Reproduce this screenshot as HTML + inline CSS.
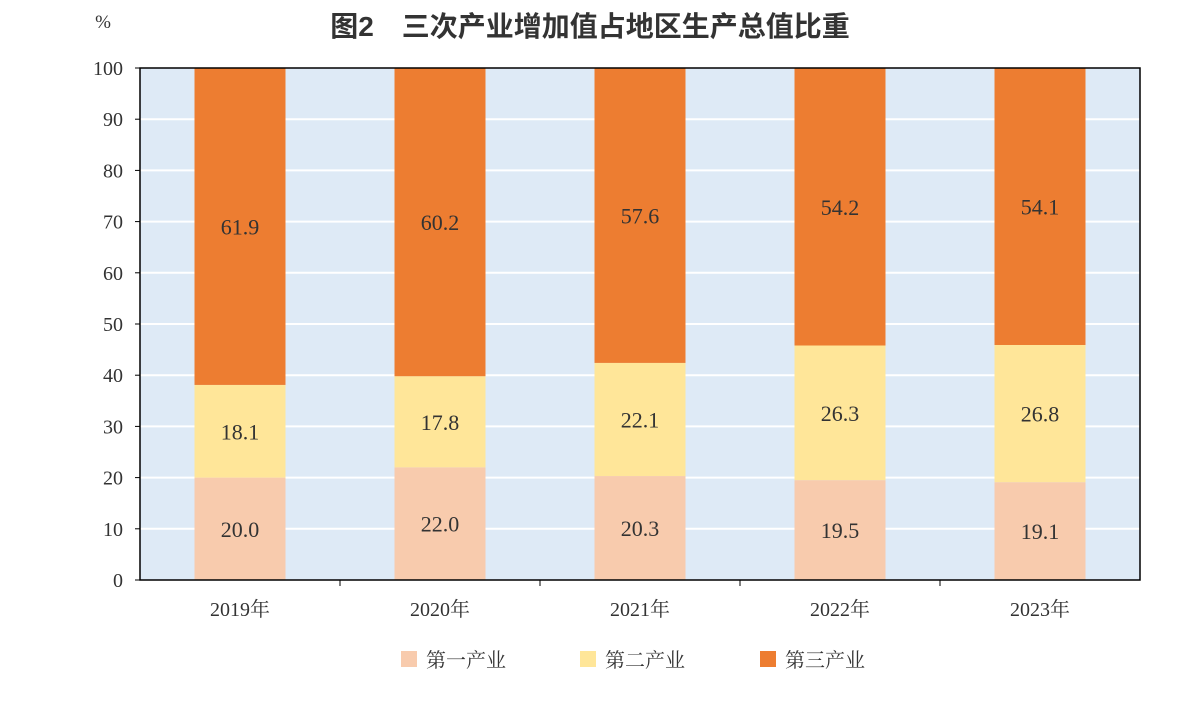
<!DOCTYPE html>
<html><head><meta charset="utf-8"><style>
body{margin:0;background:#fff;}
svg text{font-family:"Liberation Serif","Noto Serif CJK SC",serif;}
</style></head><body>
<svg id="c" width="1182" height="696" xmlns="http://www.w3.org/2000/svg">
<text x="590" y="36" text-anchor="middle" font-size="28" font-weight="bold" fill="#333" style="font-family:'Liberation Sans','Noto Sans CJK SC',sans-serif">图2　三次产业增加值占地区生产总值比重</text>
<text x="103" y="28" text-anchor="middle" font-size="19" fill="#333">%</text>
<rect x="140" y="68" width="1000" height="512" fill="#DEEAF6"/>
<g id="grid"></g><g id="bars"></g><g id="axes"></g>
<g>
<rect x="401" y="651" width="16" height="16" fill="#F8CBAD"/>
<text x="426" y="667" font-size="20" fill="#333">第一产业</text>
<rect x="580" y="651" width="16" height="16" fill="#FFE699"/>
<text x="605" y="667" font-size="20" fill="#333">第二产业</text>
<rect x="760" y="651" width="16" height="16" fill="#ED7D31"/>
<text x="785" y="667" font-size="20" fill="#333">第三产业</text>
</g>
</svg>
<script>
const categories=["2019年","2020年","2021年","2022年","2023年"];
const primary=[20.0,22.0,20.3,19.5,19.1];
const secondary=[18.1,17.8,22.1,26.3,26.8];
const tertiary=[61.9,60.2,57.6,54.2,54.1];
const yTicks=[0,10,20,30,40,50,60,70,80,90,100];
const NS="http://www.w3.org/2000/svg";
const X0=140,W=1000,Y0=580,H=512,YMAX=100;
const band=W/categories.length,bw=91;
const y=v=>Y0-v/YMAX*H;
const xc=i=>X0+band*(i+0.5);
function mk(t,a,p){const e=document.createElementNS(NS,t);for(const k in a)e.setAttribute(k,a[k]);p.appendChild(e);return e;}
const grid=document.getElementById('grid'),bars=document.getElementById('bars'),axes=document.getElementById('axes');
yTicks.forEach(v=>{
  if(v>0&&v<YMAX){const l=mk('line',{x1:X0,x2:X0+W,y1:y(v),y2:y(v),stroke:'#fff','stroke-width':2},grid);
  
  }
  const t=mk('text',{x:123,y:y(v)+7,'text-anchor':'end','font-size':20,fill:'#333'},axes);t.textContent=v;
  
  
  const tk=mk('line',{x1:X0-5,x2:X0,y1:y(v),y2:y(v),stroke:'#000','stroke-width':1},axes);
  
  
});
const series=[[primary,'#F8CBAD','primary'],[secondary,'#FFE699','secondary'],[tertiary,'#ED7D31','tertiary']];
categories.forEach((c,i)=>{
  let base=0;
  series.forEach(([arr,col,nm])=>{
    const v=arr[i];
    const r=mk('rect',{x:xc(i)-bw/2,y:y(base+v),width:bw,height:y(base)-y(base+v),fill:col},bars);
    
    
    const t=mk('text',{x:xc(i),y:(y(base)+y(base+v))/2+8,'text-anchor':'middle','font-size':22,fill:'#333'},bars);
    t.textContent=v.toFixed(1);
    
    
    base+=v;
  });
  const t=mk('text',{x:xc(i),y:616,'text-anchor':'middle','font-size':20,fill:'#333'},axes);t.textContent=c;
  
  
  if(i>0){const tk=mk('line',{x1:X0+band*i,x2:X0+band*i,y1:Y0,y2:Y0+6,stroke:'#000'},axes);
  
  }
});
const fr=mk('rect',{x:X0,y:Y0-H,width:W,height:H,fill:'none',stroke:'#000','stroke-width':1.5},axes);


</script>
</body></html>
